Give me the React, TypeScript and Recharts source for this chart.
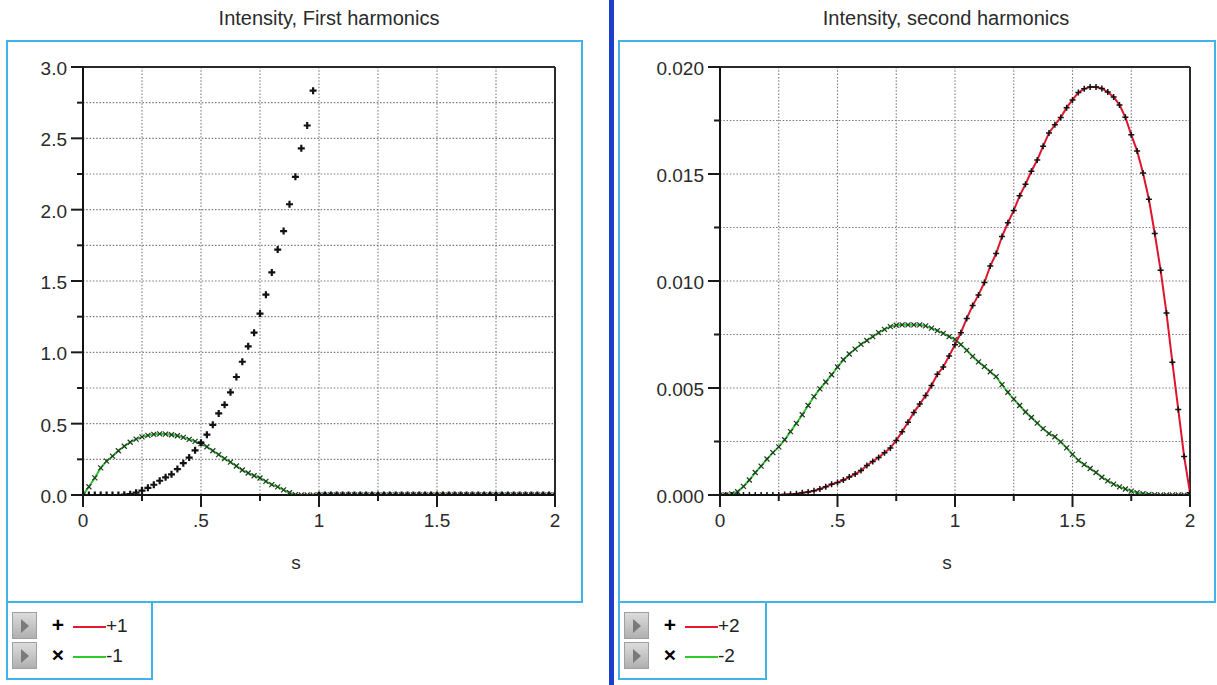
import React from "react";
import {
  LineChart,
  Line,
  XAxis,
  YAxis,
  CartesianGrid,
  ReferenceLine,
  Legend,
  Label,
} from "recharts";

const FONT = "'Liberation Sans', Arial, sans-serif";
const FRAME = "#41b3e6";

// s positions of the samples
const sValues = [
  0, 0.025, 0.05, 0.075, 0.1, 0.125, 0.15, 0.175, 0.2, 0.225, 0.25, 0.275, 0.3,
  0.325, 0.35, 0.375, 0.4, 0.425, 0.45, 0.475, 0.5, 0.525, 0.55, 0.575, 0.6,
  0.625, 0.65, 0.675, 0.7, 0.725, 0.75, 0.775, 0.8, 0.825, 0.85, 0.875, 0.9,
  0.925, 0.95, 0.975, 1, 1.025, 1.05, 1.075, 1.1, 1.125, 1.15, 1.175, 1.2,
  1.225, 1.25, 1.275, 1.3, 1.325, 1.35, 1.375, 1.4, 1.425, 1.45, 1.475, 1.5,
  1.525, 1.55, 1.575, 1.6, 1.625, 1.65, 1.675, 1.7, 1.725, 1.75, 1.775, 1.8,
  1.825, 1.85, 1.875, 1.9, 1.925, 1.95, 1.975, 2,
];

// first harmonics, +1 and -1
const firstPlus = [
  0, 0, 0, 0, 0, 0, 0, 0.002, 0.006, 0.016, 0.031, 0.05, 0.072, 0.1, 0.124,
  0.145, 0.182, 0.223, 0.262, 0.313, 0.366, 0.423, 0.492, 0.572, 0.632, 0.72,
  0.827, 0.934, 1.042, 1.138, 1.272, 1.404, 1.56, 1.72, 1.85, 2.038, 2.23, 2.43,
  2.59, 2.834, 0, 0, 0, 0, 0, 0, 0, 0, 0, 0, 0, 0, 0, 0, 0, 0, 0, 0, 0, 0, 0,
  0, 0, 0, 0, 0, 0, 0, 0, 0, 0, 0, 0, 0, 0, 0, 0, 0, 0, 0, 0,
];
const firstMinus = [
  0, 0.058, 0.12, 0.19, 0.237, 0.272, 0.31, 0.342, 0.37, 0.392, 0.407, 0.418,
  0.425, 0.428, 0.427, 0.422, 0.415, 0.404, 0.39, 0.376, 0.36, 0.338, 0.31,
  0.283, 0.255, 0.23, 0.203, 0.175, 0.154, 0.135, 0.119, 0.095, 0.073, 0.057,
  0.036, 0.016, 0.002, 0, 0, 0, 0, 0, 0, 0, 0, 0, 0, 0, 0, 0, 0, 0, 0, 0, 0,
  0, 0, 0, 0, 0, 0, 0, 0, 0, 0, 0, 0, 0, 0, 0, 0, 0, 0, 0, 0, 0, 0, 0, 0, 0, 0,
];

// second harmonics, +2 and -2
const secondPlus = [
  0, 0, 0, 0, 0, 0, 0, 0, 0, 0, 0, 0.00002, 0.00004, 0.00006, 0.0001, 0.00014,
  0.0002, 0.00028, 0.00038, 0.0005, 0.00058, 0.0007, 0.00084, 0.00098, 0.00114,
  0.00138, 0.00157, 0.00175, 0.00197, 0.0022, 0.00255, 0.00296, 0.0034,
  0.00386, 0.00425, 0.00465, 0.00512, 0.00564, 0.00598, 0.0065, 0.00702,
  0.00758, 0.00825, 0.00885, 0.00935, 0.00993, 0.0107, 0.01128, 0.01208,
  0.01272, 0.0133, 0.01398, 0.01452, 0.01513, 0.01565, 0.0163, 0.01692, 0.0173,
  0.01764, 0.0181, 0.01846, 0.01881, 0.01898, 0.01907, 0.01906, 0.019, 0.01883,
  0.0186, 0.01823, 0.01765, 0.01683, 0.01608, 0.01505, 0.01382, 0.01222,
  0.0105, 0.0085, 0.0062, 0.004, 0.0018, 0.0001,
];
const secondMinus = [
  0, 0, 0.00005, 0.00015, 0.0004, 0.0007, 0.00105, 0.00135, 0.00168, 0.00198,
  0.00225, 0.00258, 0.00296, 0.00335, 0.00375, 0.00418, 0.0046, 0.00496,
  0.00528, 0.00562, 0.00598, 0.00632, 0.00659, 0.00682, 0.00704, 0.00722,
  0.0074, 0.00759, 0.00774, 0.00787, 0.00793, 0.00795, 0.00795, 0.00795,
  0.00795, 0.0079, 0.0078, 0.00768, 0.00755, 0.0074, 0.00727, 0.00703, 0.00676,
  0.00648, 0.00622, 0.006, 0.00576, 0.00553, 0.00516, 0.0048, 0.00448, 0.00418,
  0.00388, 0.00362, 0.00336, 0.0031, 0.00287, 0.00272, 0.00248, 0.0022, 0.0019,
  0.00162, 0.00142, 0.00124, 0.00105, 0.00083, 0.00066, 0.00051, 0.00038,
  0.00028, 0.00018, 0.00011, 0.00006, 0.00003, 0.00001, 0, 0, 0, 0, 0, 0,
];

const sTicks = [0, 0.25, 0.5, 0.75, 1, 1.25, 1.5, 1.75, 2];
const sTickLabels = ["0", "", ".5", "", "1", "", "1.5", "", "2"];
const firstTicks = [0, 0.25, 0.5, 0.75, 1, 1.25, 1.5, 1.75, 2, 2.25, 2.5, 2.75, 3];
const firstTickLabels = ["0.0", "", "0.5", "", "1.0", "", "1.5", "", "2.0", "", "2.5", "", "3.0"];
const secondTicks = [0, 0.0025, 0.005, 0.0075, 0.01, 0.0125, 0.015, 0.0175, 0.02];
const secondTickLabels = ["0.000", "", "0.005", "", "0.010", "", "0.015", "", "0.020"];

const firstLegend = [
  { symbol: "+", color: "#e8192c", label: "+1" },
  { symbol: "×", color: "#2ccb2c", label: "-1" },
];
const secondLegend = [
  { symbol: "+", color: "#e8192c", label: "+2" },
  { symbol: "×", color: "#2ccb2c", label: "-2" },
];

const firstData = sValues.map((s, i) => ({ s, plus: firstPlus[i], minus: firstMinus[i] }));
const secondData = sValues.map((s, i) => ({ s, plus: secondPlus[i], minus: secondMinus[i] }));

const YTick = (props: any) => {
  const { x, y, index, labels } = props;
  const text = labels[index];
  const len = text ? 12 : 6;
  return (
    <g>
      <line x1={x - len} x2={x} y1={y} y2={y} stroke="#1a1a1a" strokeWidth={2} />
      {text ? (
        <text x={x - 16} y={y + 8} textAnchor="end" fontSize={19} fontFamily={FONT} fill="#2a2a2a">
          {text}
        </text>
      ) : null}
    </g>
  );
};

const XTick = (props: any) => {
  const { x, y, index, labels } = props;
  const text = labels[index];
  const len = text ? 12 : 6;
  return (
    <g>
      <line x1={x} x2={x} y1={y} y2={y + len} stroke="#1a1a1a" strokeWidth={2} />
      {text ? (
        <text x={x} y={y + 32} textAnchor="middle" fontSize={19} fontFamily={FONT} fill="#2a2a2a">
          {text}
        </text>
      ) : null}
    </g>
  );
};

const plusDot = (half: number, weight: number) => (props: any) => {
  const { cx, cy, index } = props;
  if (cx == null || cy == null) return <g key={`p${index}`} />;
  return (
    <path
      key={`p${index}`}
      d={`M${cx - half},${cy}H${cx + half}M${cx},${cy - half}V${cy + half}`}
      stroke="#111"
      strokeWidth={weight}
      fill="none"
    />
  );
};

const crossDot = (props: any) => {
  const { cx, cy, index } = props;
  if (cx == null || cy == null) return <g key={`x${index}`} />;
  const h = 2.5;
  return (
    <path
      key={`x${index}`}
      d={`M${cx - h},${cy - h}L${cx + h},${cy + h}M${cx - h},${cy + h}L${cx + h},${cy - h}`}
      stroke="#263326"
      strokeWidth={1.2}
      fill="none"
    />
  );
};

const LegendBox = ({ items }: { items: typeof firstLegend }) => (
  <div
    style={{
      position: "relative",
      width: "100%",
      height: "100%",
      border: `2px solid ${FRAME}`,
      boxSizing: "border-box",
      background: "#fff",
      fontFamily: FONT,
      color: "#222",
    }}
  >
    {items.map((it, i) => (
      <div key={it.label} style={{ position: "absolute", left: 0, top: 9 + i * 30, height: 28, width: "100%" }}>
        <div
          style={{
            position: "absolute",
            left: 4,
            top: 0,
            width: 25,
            height: 27,
            background: "linear-gradient(#dcdcdc, #b0b0b0)",
            border: "1px solid #a0a0a0",
            boxSizing: "border-box",
          }}
        >
          <div
            style={{
              position: "absolute",
              left: 8,
              top: 6,
              width: 0,
              height: 0,
              borderTop: "7px solid transparent",
              borderBottom: "7px solid transparent",
              borderLeft: "8px solid #7a7a7a",
            }}
          />
        </div>
        <div
          style={{
            position: "absolute",
            left: 42,
            top: 3,
            width: 16,
            textAlign: "center",
            fontSize: 21,
            fontWeight: "bold",
            lineHeight: "20px",
            color: "#000",
          }}
        >
          {it.symbol}
        </div>
        <div style={{ position: "absolute", left: 65, top: 14, width: 33, height: 2, background: it.color }} />
        <div style={{ position: "absolute", left: 98, top: 4, fontSize: 19, lineHeight: "20px" }}>{it.label}</div>
      </div>
    ))}
  </div>
);

type PanelProps = {
  data: any[];
  width: number;
  marginLeft: number;
  marginRight: number;
  yAxisWidth: number;
  yTicks: number[];
  yLabels: string[];
  yMax: number;
  plusLine: string;
  plusHalf: number;
  plusWeight: number;
  legend: typeof firstLegend;
  legendLeft: number;
  legendWidth: number;
  labelDx: number;
};

const Panel = (p: PanelProps) => (
  <LineChart
    width={p.width}
    height={685}
    data={p.data}
    margin={{ top: 67, right: p.marginRight, bottom: 110, left: p.marginLeft }}
  >
    <CartesianGrid
      stroke="#7a7a7a"
      strokeWidth={1.1}
      strokeDasharray="1.5 1.8"
      verticalValues={sTicks}
      horizontalValues={p.yTicks}
    />
    <XAxis
      type="number"
      dataKey="s"
      domain={[0, 2]}
      ticks={sTicks}
      interval={0}
      allowDataOverflow
      tickLine={false}
      tickSize={0}
      tickMargin={0}
      height={80}
      axisLine={{ stroke: "#111", strokeWidth: 2 }}
      tick={(props: any) => <XTick {...props} labels={sTickLabels} />}
    >
      <Label value="s" position="insideBottom" offset={6} dx={p.labelDx} fontSize={19} fontFamily={FONT} fill="#2a2a2a" />
    </XAxis>
    <YAxis
      type="number"
      domain={[0, p.yMax]}
      ticks={p.yTicks}
      interval={0}
      allowDataOverflow
      width={p.yAxisWidth}
      tickLine={false}
      tickSize={0}
      tickMargin={0}
      axisLine={{ stroke: "#111", strokeWidth: 2 }}
      tick={(props: any) => <YTick {...props} labels={p.yLabels} />}
    />
    <ReferenceLine y={p.yMax} stroke="#2a2a2a" strokeWidth={2} />
    <ReferenceLine x={2} stroke="#2a2a2a" strokeWidth={2} />
    <Legend
      layout="vertical"
      align="center"
      verticalAlign="middle"
      wrapperStyle={{ left: p.legendLeft, top: 601, width: p.legendWidth, height: 79 }}
      content={() => <LegendBox items={p.legend} />}
    />
    <Line
      type="linear"
      dataKey="minus"
      stroke="#2ccb2c"
      strokeWidth={2}
      dot={crossDot}
      activeDot={false}
      isAnimationActive={false}
    />
    <Line
      type="linear"
      dataKey="plus"
      stroke={p.plusLine}
      strokeWidth={2}
      dot={plusDot(p.plusHalf, p.plusWeight)}
      activeDot={false}
      isAnimationActive={false}
    />
  </LineChart>
);

const titleStyle: React.CSSProperties = {
  position: "absolute",
  top: 8,
  width: 300,
  textAlign: "center",
  fontFamily: FONT,
  fontSize: 20,
  lineHeight: "20px",
  color: "#2a2a2a",
};

export default function App() {
  return (
    <div
      style={{
        position: "absolute",
        left: 0,
        top: 0,
        width: 1217,
        height: 685,
        background: "#fff",
        overflow: "hidden",
      }}
    >
      <div style={{ ...titleStyle, left: 179 }}>Intensity, First harmonics</div>
      <div style={{ ...titleStyle, left: 796 }}>Intensity, second harmonics</div>
      <div
        style={{
          position: "absolute",
          left: 6,
          top: 40,
          width: 577,
          height: 563,
          border: `2px solid ${FRAME}`,
          boxSizing: "border-box",
        }}
      />
      <div
        style={{
          position: "absolute",
          left: 618,
          top: 40,
          width: 598,
          height: 563,
          border: `2px solid ${FRAME}`,
          boxSizing: "border-box",
        }}
      />
      <div style={{ position: "absolute", left: 609, top: 0, width: 5, height: 685, background: "#1d3fcf" }} />
      <div style={{ position: "absolute", left: 0, top: 0 }}>
        <Panel
          data={firstData}
          width={583}
          marginLeft={23}
          marginRight={28}
          yAxisWidth={60}
          yTicks={firstTicks}
          yLabels={firstTickLabels}
          yMax={3}
          plusLine="none"
          plusHalf={3.5}
          plusWeight={2.2}
          legend={firstLegend}
          legendLeft={6}
          legendWidth={147}
          labelDx={-23}
        />
      </div>
      <div style={{ position: "absolute", left: 618, top: 0 }}>
        <Panel
          data={secondData}
          width={598}
          marginLeft={26}
          marginRight={26}
          yAxisWidth={76}
          yTicks={secondTicks}
          yLabels={secondTickLabels}
          yMax={0.02}
          plusLine="#e0142c"
          plusHalf={3}
          plusWeight={1.5}
          legend={secondLegend}
          legendLeft={0}
          legendWidth={149}
          labelDx={-8}
        />
      </div>
    </div>
  );
}
